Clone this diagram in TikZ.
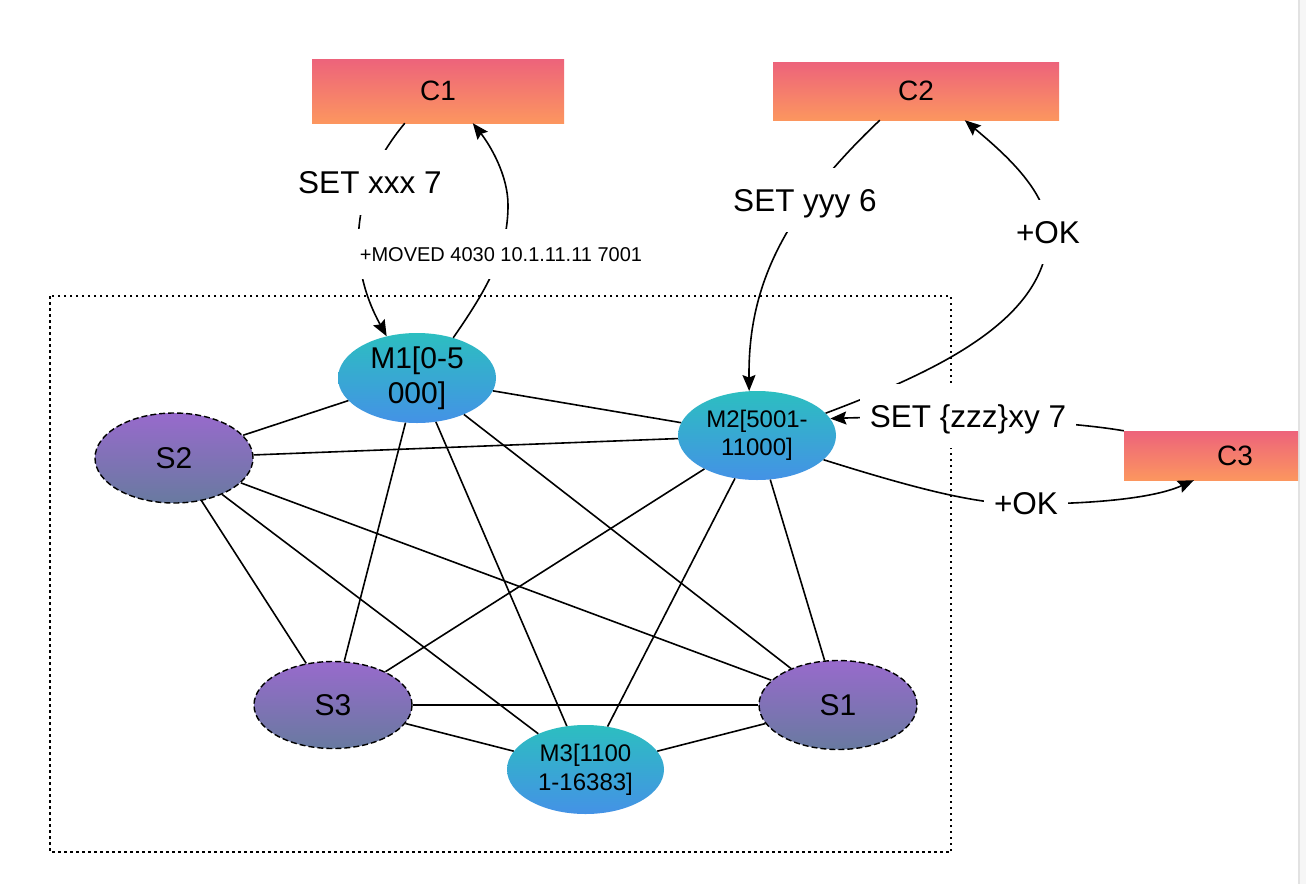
\documentclass[tikz,border=0pt]{standalone}
\usepackage{fontspec}
\setmainfont{Liberation Sans}
\usetikzlibrary{arrows.meta,shapes.geometric}
\definecolor{cTop}{RGB}{237,99,123}
\definecolor{cBot}{RGB}{252,150,95}
\definecolor{mTop}{RGB}{44,190,192}
\definecolor{mBot}{RGB}{68,146,230}
\definecolor{sTop}{RGB}{152,106,204}
\definecolor{sBot}{RGB}{104,122,160}
\definecolor{panel}{RGB}{246,246,246}
\definecolor{panelLine}{RGB}{226,226,226}
\begin{document}
\begin{tikzpicture}[x=1pt,y=-1pt,
  client/.style={rectangle, draw=none, top color=cTop, bottom color=cBot, inner sep=0pt,
    font=\fontsize{28}{32}\selectfont},
  master/.style={ellipse, draw=none, top color=mTop, bottom color=mBot, inner sep=0pt, align=center},
  slave/.style={ellipse, draw=black, line width=1.4pt, dash pattern=on 6pt off 3pt,
    top color=sTop, bottom color=sBot, inner sep=0pt, font=\fontsize{30}{34}\selectfont},
  cluster/.style={draw=black, line width=1.5pt, dash pattern=on 2.5pt off 3.5pt},
  link/.style={line width=1.6pt},
  msg/.style={line width=1.6pt, -{Stealth[length=16pt,width=13pt,inset=2.5pt]}},
  lbl/.style={fill=white, inner xsep=10pt, inner ysep=21pt, text height=22.5pt, text depth=0pt,
    font=\fontsize{31.5}{34}\selectfont},
  lblsmall/.style={fill=white, inner xsep=10pt, inner ysep=18pt, text height=14.4pt, text depth=0pt,
    font=\fontsize{20}{24}\selectfont}]
\useasboundingbox (0,0) rectangle (1306,884);
\fill[white] (0,0) rectangle (1306,884);
\fill[panel] (1298,0) rectangle (1306,884);
\draw[panelLine, line width=1.5pt] (1298.75,0) -- (1298.75,884);

\draw[cluster] (50,296) rectangle (951,852);

% clients
\node[client, minimum width=252pt, minimum height=64pt] (C1) at (438,91) {C1};
\node[client, minimum width=286pt, minimum height=58pt] (C2) at (916,91) {C2};
\node[client, minimum width=174pt, minimum height=49pt] (C3) at (1211,455.5) {\hspace*{48pt}C3};

% cluster nodes
\node[master, minimum width=158pt, minimum height=90pt, font=\fontsize{30}{35}\selectfont] (M1) at (417,378) {M1[0-5\\000]};
\node[master, minimum width=158pt, minimum height=89pt, font=\fontsize{24}{28}\selectfont] (M2) at (757,435.5) {M2[5001-\\11000]};
\node[master, minimum width=157pt, minimum height=89pt, font=\fontsize{24}{29}\selectfont] (M3) at (585.5,769.5) {M3[1100\\1-16383]};
\node[slave, minimum width=158pt, minimum height=90pt] (S2) at (174,458) {S2};
\node[slave, minimum width=158pt, minimum height=87pt] (S3) at (333,705) {S3};
\node[slave, minimum width=158pt, minimum height=89pt] (S1) at (838,705) {S1};

% full mesh
\foreach \a/\b in {M1/S2,M1/M2,M1/S3,M1/M3,M1/S1,S2/M2,S2/S1,S2/S3,S2/M3,M2/S3,M2/M3,M2/S1,S3/S1,S3/M3,M3/S1}
  \draw[link] (\a) -- (\b);

% messages
\draw[msg] ([xshift=93pt]C1.south west) .. controls (345,195) and (350,270) .. (M1.126);
\draw[msg] (M1.48) .. controls (490,285) and (508,250) .. (508,205)
  .. controls (508,175) and (490,145) .. ([xshift=161pt]C1.south west);
\draw[msg] ([xshift=107pt]C2.south west) .. controls (780,215) and (748,290) .. (M2.100);
\draw[msg] (M2.18) .. controls (935,372) and (1048,320) .. (1048,232)
  .. controls (1048,190) and (1000,150) .. ([xshift=192pt]C2.south west);
\draw[msg] (C3.north west) .. controls (1050,418) and (900,416) .. (M2.13);
\draw[msg] (M2.-20) .. controls (920,490) and (980,505) .. (1026,504)
  .. controls (1080,504) and (1150,500) .. ([xshift=70pt]C3.south west);

% labels
\node[lbl] (l1) at (370,182.5) {SET xxx 7};
\node[lblsmall] (l2) at (501,254) {+MOVED 4030 10.1.11.11 7001};
\node[lbl] (l3) at (805,200) {SET yyy 6};
\node[lbl] (l4) at (1048,232) {+OK};
\node[lbl] (l5) at (968,416) {SET \{zzz\}xy 7};
\node[lbl] (l6) at (1026,503.5) {+OK};
\end{tikzpicture}
\end{document}
